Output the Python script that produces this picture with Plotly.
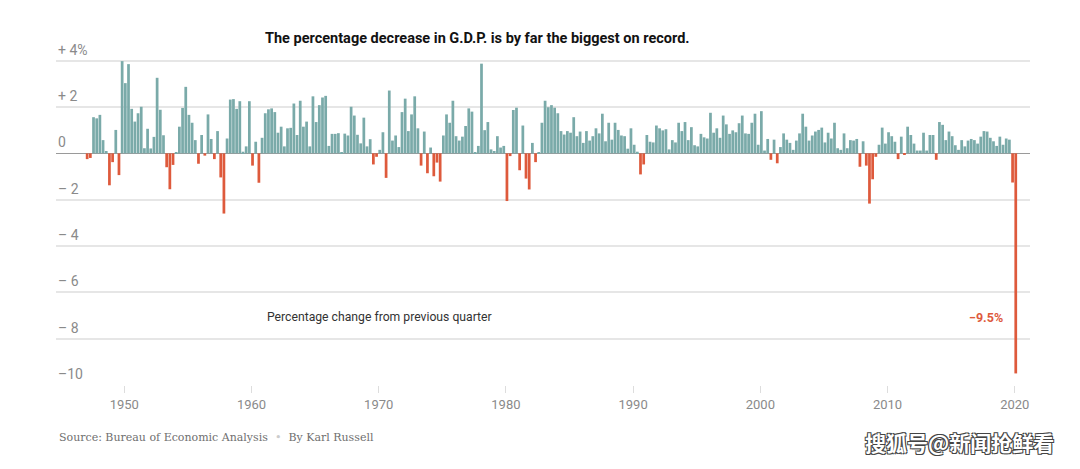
import plotly.graph_objects as go

# Quarterly % change in real GDP (not annualized), 1947 Q2 .. 2020 Q2
start_year = 1947
start_quarter = 2
gdp_change = [
    -0.25, -0.20, 1.56,
    1.51, 1.66, 0.57, 0.10,
    -1.38, -0.38, 1.01, -0.94,
    3.98, 3.03, 3.85, 1.92,
    1.37, 1.73, 2.01, 0.22,
    1.06, 0.21, 0.71, 3.26,
    1.88, 0.78, -0.60, -1.55,
    -0.50, 0.05, 1.15, 1.96,
    2.87, 1.66, 1.32, 0.57,
    -0.45, 0.79, -0.10, 1.68,
    0.62, -0.25, 0.96, -1.04,
    -2.60, 0.64, 2.32, 2.34,
    1.92, 2.25, 0.07, 0.30,
    2.25, -0.53, 0.50, -1.27,
    0.67, 1.73, 1.90, 1.94,
    1.78, 0.89, 1.15, 0.30,
    1.08, 1.10, 2.15, 0.79,
    2.27, 1.15, 1.37, 0.30,
    2.46, 1.35, 2.08, 2.41,
    2.48, 0.32, 0.84, 0.84,
    0.87, 0.05, 0.85, 0.77,
    2.01, 1.63, 0.80, 0.43,
    1.54, 0.30, 0.61, -0.48,
    -0.15, 0.15, 0.91, -1.06,
    2.71, 0.55, 0.77, 0.27,
    1.78, 2.36, 0.96, 1.68,
    2.46, 1.08, -0.53, 0.94,
    -0.86, 0.25, -0.99, -0.40,
    -1.22, 0.77, 1.68, 1.32,
    2.27, 0.74, 0.55, 0.72,
    1.18, 1.94, 1.80, 0.02,
    0.32, 3.87, 1.00, 1.35,
    0.17, 0.10, 0.74, 0.25,
    0.32, -2.06, -0.12, 1.87,
    1.97, -0.73, 1.20, -1.09,
    -1.56, 0.45, -0.38, 0.05,
    1.32, 2.27, 1.99, 2.08,
    1.97, 1.73, 0.96, 0.81,
    0.96, 0.89, 1.56, 0.74,
    0.94, 0.45, 0.96, 0.55,
    0.74, 1.08, 0.86, 1.71,
    0.52, 1.32, 0.59, 1.32,
    1.01, 0.77, 0.74, 0.20,
    1.08, 0.37, 0.07, -0.91,
    -0.48, 0.79, 0.50, 0.47,
    1.20, 1.08, 0.99, 1.04,
    0.17, 0.57, 0.47, 1.32,
    0.96, 1.35, 0.57, 1.13,
    0.35, 0.30, 0.84, 0.69,
    0.64, 1.75, 0.89, 1.08,
    0.67, 1.63, 1.25, 0.84,
    0.99, 0.91, 1.30, 1.63,
    0.86, 0.84, 1.32, 1.71,
    0.37, 1.82, 0.12, 0.62,
    -0.28, 0.59, -0.43, 0.27,
    0.86, 0.59, 0.45, 0.15,
    0.55, 0.86, 1.71, 1.15,
    0.55, 0.77, 0.94, 1.01,
    1.11, 0.47, 0.89, 0.64,
    1.32, 0.22, 0.15, 0.86,
    0.22, 0.57, 0.55, 0.62,
    -0.58, 0.52, -0.53, -2.17,
    -1.12, -0.15, 0.37, 1.11,
    0.42, 0.91, 0.74, 0.50,
    -0.25, 0.72, -0.03, 1.15,
    0.79, 0.42, 0.12, 0.12,
    0.89, 0.12, 0.79, 0.79,
    -0.28, 1.35, 1.23, 0.57,
    0.94, 0.74, 0.35, 0.15,
    0.57, 0.30, 0.55, 0.62,
    0.57, 0.42, 0.72, 0.96,
    0.94, 0.67, 0.52, 0.32,
    0.72, 0.37, 0.64, 0.59,
    -1.26, -9.50,
]

x_ticks = [1950, 1960, 1970, 1980, 1990, 2000, 2010, 2020]
y_ticks = [4, 2, 0, -2, -4, -6, -8, -10]
y_tick_labels = ["+ 4%", "+ 2", "0", "– 2", "– 4", "– 6", "– 8", "–10"]

TEAL = "#7aaaa9"
RED = "#de5a3c"
GRAY = "#8a8a8a"

# bar positions as fractional years
xs = []
for i in range(len(gdp_change)):
    q = start_quarter - 1 + i
    year = start_year + q // 4
    quarter = q % 4 + 1
    xs.append(year + (quarter - 2) / 4 + 0.08)
colors = [TEAL if v >= 0 else RED for v in gdp_change]

fig = go.Figure()
fig.add_trace(go.Bar(
    x=xs, y=gdp_change, marker=dict(color=colors, line=dict(width=0)),
    width=0.215, hoverinfo="skip",
))

PW = 1080 - 56 - 50
PH = 469 - 50 - 84

fig.update_layout(
    width=1080, height=469,
    margin=dict(l=56, r=50, t=50, b=84),
    paper_bgcolor="white", plot_bgcolor="white",
    showlegend=False,
    font=dict(family="Roboto, sans-serif", color=GRAY, size=13),
    xaxis=dict(
        range=[1944.63, 2021.2], tickvals=x_ticks, ticktext=[str(t) for t in x_ticks],
        showgrid=False, zeroline=False, showline=False,
        ticks="outside", ticklen=7, tickcolor="#dddddd", tickwidth=1,
        tickfont=dict(size=13, color=GRAY), fixedrange=True,
    ),
    yaxis=dict(
        range=[-10, 4.46], tickvals=y_ticks, showticklabels=False,
        showgrid=True, gridcolor="#e6e6e6", gridwidth=1.5,
        zeroline=True, zerolinecolor="#9a9a9a", zerolinewidth=1,
        fixedrange=True,
    ),
)

annotations = []
for v, t in zip(y_ticks, y_tick_labels):
    annotations.append(dict(
        x=0, xref="paper", y=v, yref="y", text=t, showarrow=False,
        xanchor="left", yanchor="bottom", yshift=1,
        font=dict(size=14, color=GRAY, family="Roboto, sans-serif"),
    ))

annotations += [
    dict(x=(477 - 56) / PW, xref="paper", y=1 + (50 - 38) / PH, yref="paper",
         text="<b>The percentage decrease in G.D.P. is by far the biggest on record.</b>",
         showarrow=False, xanchor="center", yanchor="middle",
         font=dict(size=14.5, color="#121212", family="Roboto, sans-serif")),
    dict(x=1961.05, xref="x", y=-7.07, yref="y", text="Percentage change from previous quarter",
         showarrow=False, xanchor="left", yanchor="middle",
         font=dict(size=12.2, color="#333333", family="Roboto, sans-serif")),
    dict(x=2019.25, xref="x", y=-7.07, yref="y", text="<b>−9.5%</b>",
         showarrow=False, xanchor="right", yanchor="middle",
         font=dict(size=12.5, color=RED, family="Roboto, sans-serif")),
    dict(x=(57 - 56) / PW, xref="paper", y=-(437 - 385) / PH, yref="paper",
         text="Source: Bureau of Economic Analysis  <span style='color:#cccccc'>•</span>  By Karl Russell",
         showarrow=False, xanchor="left", yanchor="middle",
         font=dict(size=11, color="#6f6f6f", family="DejaVu Serif, serif")),
    dict(x=(1056 - 56) / PW, xref="paper", y=-(442 - 385) / PH, yref="paper",
         text="<b>搜狐号@新闻抢鲜看</b>", showarrow=False, xanchor="right", yanchor="middle",
         font=dict(size=21, color="white", family="Noto Sans CJK SC",
                   shadow="-1px -1px 0 #444, 1px -1px 0 #444, -1px 1px 0 #444, 1px 1px 0 #444")),
]

fig.update_layout(annotations=annotations)
fig.write_html("out.html")
